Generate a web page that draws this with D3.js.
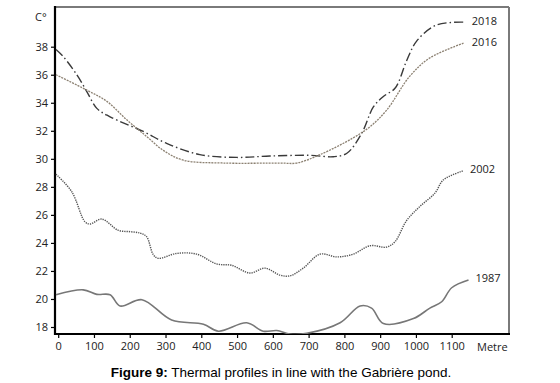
<!DOCTYPE html>
<meta charset="utf-8">
<script src="https://d3js.org/d3.v7.min.js"></script>
<style>
  body { margin: 0; background: #fff; }
  .tick text { font-family: "Open Sans", sans-serif; font-size: 11px; fill: #222; }
  .lbl { font-family: "Open Sans", sans-serif; font-size: 11px; fill: #222; }
  .cap { font-family: "Liberation Sans", Arial, sans-serif; font-size: 13.5px; fill: #000; }
</style>
<body>
<div id="viz"></div>
<script>
// distance along profile (m) and temperature (C) for each survey year
const xTicks = [0, 100, 200, 300, 400, 500, 600, 700, 800, 900, 1000, 1100];
const yTicks = [18, 20, 22, 24, 26, 28, 30, 32, 34, 36, 38];

const d2018 = [[-9,37.8],[14,37.3],[52,36.0],[80,34.8],[108,33.6],[145,33.0],[238,31.95],[303,31.1],[396,30.3],[499,30.1],[592,30.2],[704,30.25],[769,30.15],[807,30.4],[848,31.8],[881,33.7],[909,34.45],[942,35.05],[974,37.0],[1002,38.4],[1058,39.55],[1133,39.75]];
const d2016 = [[-9,36.0],[80,34.9],[136,34.1],[191,32.8],[247,31.6],[294,30.6],[350,29.9],[462,29.7],[620,29.7],[667,29.7],[732,30.3],[825,31.5],[872,32.3],[919,33.5],[983,35.9],[1039,37.2],[1133,38.25]];
const d2002 = [[-9,28.9],[38,27.65],[75,25.5],[89,25.35],[122,25.7],[168,24.9],[201,24.8],[229,24.7],[247,24.45],[266,23.15],[280,22.9],[331,23.25],[387,23.2],[443,22.5],[485,22.4],[536,21.85],[578,22.2],[620,21.7],[648,21.65],[685,22.2],[732,23.2],[779,23.0],[825,23.2],[872,23.8],[918,23.7],[942,24.1],[974,25.6],[1011,26.6],[1053,27.55],[1077,28.5],[1133,29.15]];
const d1987 = [[-9,20.3],[70,20.65],[108,20.33],[145,20.3],[173,19.5],[234,19.95],[317,18.5],[406,18.2],[448,17.7],[527,18.3],[573,17.7],[611,17.75],[648,17.5],[695,17.55],[788,18.3],[844,19.5],[876,19.35],[909,18.25],[993,18.6],[1039,19.35],[1072,19.8],[1100,20.8],[1147,21.35]];

const W = 560, H = 383;
const box = {left: 55, right: 509, top: 7, bottom: 334};

const svg = d3.select("#viz").append("svg")
  .attr("width", W).attr("height", H);

const x = d3.scaleLinear().domain([0, 1100]).range([58.2, 451.7]);
const y = d3.scaleLinear().domain([18, 38]).range([327, 46.7]);

svg.append("clipPath").attr("id", "clip")
  .append("rect")
  .attr("x", box.left).attr("y", box.top)
  .attr("width", box.right - box.left).attr("height", box.bottom - box.top);

// axes
const gx = svg.append("g")
  .attr("transform", `translate(0,${box.bottom})`)
  .call(d3.axisBottom(x).tickValues(xTicks).tickSize(4).tickPadding(4).tickFormat(d3.format("d")));
gx.select(".domain").remove();
gx.selectAll("line").attr("stroke", "#000").attr("stroke-width", 1.2);

const gy = svg.append("g")
  .attr("transform", `translate(${box.left},0)`)
  .call(d3.axisLeft(y).tickValues(yTicks).tickSize(4).tickPadding(3));
gy.select(".domain").remove();
gy.selectAll("line").attr("stroke", "#000").attr("stroke-width", 1.2);

// frame
svg.append("line").attr("x1", box.left).attr("x2", box.right).attr("y1", box.top).attr("y2", box.top)
  .attr("stroke", "#7a7a7a").attr("stroke-width", 2);
svg.append("line").attr("x1", box.right).attr("x2", box.right).attr("y1", box.top).attr("y2", box.bottom)
  .attr("stroke", "#7a7a7a").attr("stroke-width", 2);
svg.append("line").attr("x1", box.left).attr("x2", box.left).attr("y1", box.top - 1).attr("y2", box.bottom + 1)
  .attr("stroke", "#000").attr("stroke-width", 2.2);
svg.append("line").attr("x1", box.left).attr("x2", box.right + 1).attr("y1", box.bottom).attr("y2", box.bottom)
  .attr("stroke", "#000").attr("stroke-width", 2.2);

const line = d3.line()
  .x(d => Math.max(x(d[0]), box.left + 1))
  .y(d => y(d[1]))
  .curve(d3.curveCatmullRom.alpha(0.5));

const series = [
  {name: "2018", data: d2018, color: "#3a3a3a", width: 1.4, dash: "9,3,1.5,3"},
  {name: "2016", data: d2016, color: "#8c8172", width: 1.3, dash: "2,1"},
  {name: "2002", data: d2002, color: "#555", width: 1.4, dash: "1.3,1"},
  {name: "1987", data: d1987, color: "#777", width: 1.6, dash: null}
];

const plot = svg.append("g").attr("clip-path", "url(#clip)");
series.forEach(s => {
  plot.append("path")
    .datum(s.data)
    .attr("fill", "none")
    .attr("stroke", s.color)
    .attr("stroke-width", s.width)
    .attr("stroke-dasharray", s.dash)
    .attr("d", line);
});

// series labels
const labels = [
  {t: "2018", x: 1145, v: 39.8},
  {t: "2016", x: 1145, v: 38.3},
  {t: "2002", x: 1140, v: 29.3},
  {t: "1987", x: 1155, v: 21.5}
];
svg.selectAll(".lbl.s").data(labels).join("text")
  .attr("class", "lbl s")
  .attr("x", d => x(d.x) + 4)
  .attr("y", d => y(d.v) + 4)
  .text(d => d.t);

svg.append("text").attr("class", "lbl").attr("x", 35).attr("y", 21).text("C°");
svg.append("text").attr("class", "lbl").attr("x", 477).attr("y", 351).text("Metre");

const cap = svg.append("text").attr("class", "cap")
  .attr("x", 281).attr("y", 377).attr("text-anchor", "middle");
cap.append("tspan").attr("font-weight", "bold").text("Figure 9:");
cap.append("tspan").text(" Thermal profiles in line with the Gabrière pond.");
</script>
</body>
